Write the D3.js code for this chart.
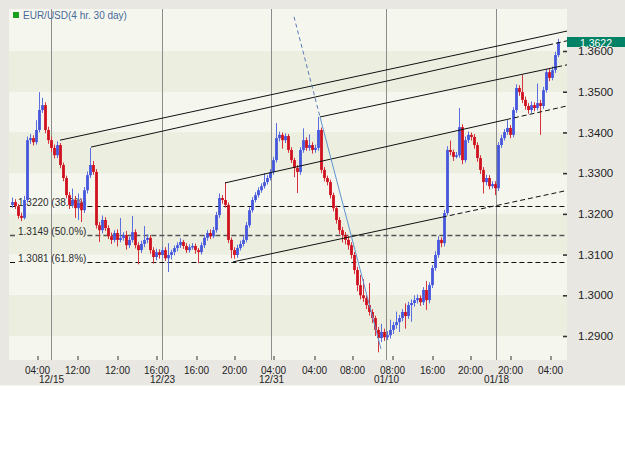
<!DOCTYPE html>
<html><head><meta charset="utf-8">
<script src="https://cdn.jsdelivr.net/npm/d3@7"></script>
<style>body{margin:0;background:#fff;} svg{display:block;font-family:Arial,"Liberation Sans",sans-serif;}</style>
</head><body><svg id="c" width="625" height="450"></svg>
<script>
const opens = [1.3222,1.3229,1.3219,1.3195,1.3190,1.3234,1.3381,1.3386,1.3376,1.3406,
1.3455,1.3467,1.3406,1.3381,1.3362,1.3344,1.3369,1.3320,1.3288,1.3246,
1.3222,1.3234,1.3214,1.3227,1.3209,1.3258,1.3295,1.3320,1.3303,1.3172,
1.3160,1.3185,1.3165,1.3145,1.3136,1.3153,1.3136,1.3141,1.3148,1.3123,
1.3136,1.3155,1.3123,1.3111,1.3126,1.3136,1.3141,1.3111,1.3094,1.3106,
1.3099,1.3111,1.3091,1.3099,1.3106,1.3116,1.3123,1.3131,1.3121,1.3111,
1.3118,1.3121,1.3111,1.3106,1.3123,1.3141,1.3153,1.3145,1.3160,1.3197,
1.3239,1.3234,1.3222,1.3136,1.3111,1.3099,1.3116,1.3126,1.3136,1.3172,
1.3209,1.3234,1.3246,1.3258,1.3268,1.3278,1.3288,1.3303,1.3332,1.3386,
1.3394,1.3381,1.3391,1.3357,1.3332,1.3313,1.3303,1.3357,1.3381,1.3362,
1.3369,1.3357,1.3362,1.3406,1.3308,1.3288,1.3278,1.3246,1.3214,1.3185,
1.3160,1.3148,1.3136,1.3123,1.3099,1.3062,1.3025,1.3000,1.2993,1.2976,
1.2959,1.2944,1.2915,1.2895,1.2910,1.2897,1.2902,1.2915,1.2927,1.2934,
1.2944,1.2959,1.2949,1.2976,1.2981,1.2988,1.2993,1.2983,1.3013,1.2988,
1.3025,1.3067,1.3099,1.3136,1.3128,1.3202,1.3357,1.3352,1.3340,1.3344,
1.3413,1.3332,1.3381,1.3394,1.3389,1.3369,1.3337,1.3308,1.3278,1.3288,
1.3268,1.3273,1.3263,1.3369,1.3386,1.3401,1.3411,1.3394,1.3455,1.3509,
1.3499,1.3480,1.3465,1.3455,1.3467,1.3460,1.3472,1.3465,1.3504,1.3548,
1.3534,1.3553,1.3590];
const highs = [1.3240,1.3236,1.3224,1.3203,1.3244,1.3390,1.3396,1.3393,1.3430,1.3499,
1.3485,1.3474,1.3414,1.3390,1.3370,1.3378,1.3374,1.3326,1.3294,1.3254,
1.3262,1.3244,1.3250,1.3236,1.3266,1.3304,1.3362,1.3330,1.3310,1.3180,
1.3196,1.3192,1.3172,1.3154,1.3160,1.3162,1.3190,1.3155,1.3158,1.3144,
1.3195,1.3162,1.3130,1.3134,1.3170,1.3150,1.3148,1.3118,1.3114,1.3113,
1.3118,1.3118,1.3128,1.3112,1.3122,1.3130,1.3140,1.3136,1.3128,1.3125,
1.3128,1.3127,1.3116,1.3130,1.3148,1.3160,1.3162,1.3168,1.3205,1.3250,
1.3246,1.3278,1.3228,1.3142,1.3118,1.3124,1.3134,1.3146,1.3180,1.3216,
1.3241,1.3253,1.3265,1.3275,1.3300,1.3295,1.3310,1.3340,1.3423,1.3402,
1.3400,1.3398,1.3396,1.3364,1.3338,1.3320,1.3364,1.3410,1.3388,1.3395,
1.3376,1.3370,1.3438,1.3412,1.3315,1.3294,1.3284,1.3252,1.3220,1.3192,
1.3168,1.3155,1.3145,1.3130,1.3106,1.3070,1.3050,1.3040,1.3000,1.3030,
1.2966,1.2950,1.2922,1.2930,1.2918,1.2912,1.2940,1.2935,1.2960,1.2952,
1.2966,1.2980,1.2984,1.2990,1.3000,1.3002,1.3000,1.3020,1.3035,1.3032,
1.3074,1.3108,1.3145,1.3142,1.3210,1.3366,1.3380,1.3358,1.3352,1.3460,
1.3420,1.3390,1.3402,1.3400,1.3396,1.3376,1.3344,1.3315,1.3296,1.3295,
1.3280,1.3280,1.3376,1.3394,1.3408,1.3430,1.3418,1.3462,1.3518,1.3516,
1.3541,1.3488,1.3472,1.3476,1.3474,1.3520,1.3480,1.3512,1.3556,1.3556,
1.3562,1.3598,1.3630];
const lows = [1.3215,1.3212,1.3188,1.3182,1.3186,1.3228,1.3372,1.3368,1.3370,1.3400,
1.3448,1.3398,1.3372,1.3352,1.3336,1.3337,1.3312,1.3280,1.3238,1.3212,
1.3215,1.3190,1.3185,1.3180,1.3202,1.3250,1.3288,1.3296,1.3164,1.3131,
1.3152,1.3158,1.3138,1.3126,1.3130,1.3120,1.3130,1.3134,1.3112,1.3116,
1.3130,1.3115,1.3076,1.3104,1.3118,1.3128,1.3102,1.3078,1.3086,1.3090,
1.3092,1.3084,1.3057,1.3088,1.3098,1.3108,1.3116,1.3114,1.3104,1.3105,
1.3112,1.3102,1.3079,1.3100,1.3116,1.3134,1.3138,1.3140,1.3154,1.3190,
1.3225,1.3215,1.3128,1.3091,1.3090,1.3092,1.3110,1.3120,1.3130,1.3166,
1.3203,1.3228,1.3240,1.3252,1.3262,1.3272,1.3282,1.3296,1.3326,1.3378,
1.3360,1.3374,1.3350,1.3325,1.3290,1.3251,1.3296,1.3350,1.3355,1.3355,
1.3348,1.3350,1.3355,1.3300,1.3280,1.3270,1.3238,1.3206,1.3176,1.3150,
1.3130,1.3125,1.3112,1.3090,1.3052,1.3010,1.2990,1.2984,1.2966,1.2950,
1.2932,1.2900,1.2860,1.2885,1.2888,1.2890,1.2894,1.2905,1.2918,1.2910,
1.2936,1.2918,1.2942,1.2935,1.2972,1.2980,1.2974,1.2976,1.2964,1.2980,
1.3018,1.3060,1.3092,1.3118,1.3120,1.3196,1.3344,1.3330,1.3336,1.3338,
1.3322,1.3326,1.3374,1.3380,1.3360,1.3328,1.3298,1.3250,1.3270,1.3260,
1.3262,1.3246,1.3256,1.3362,1.3380,1.3394,1.3386,1.3388,1.3448,1.3490,
1.3472,1.3456,1.3446,1.3448,1.3452,1.3454,1.3394,1.3458,1.3498,1.3526,
1.3528,1.3546,1.3585];
const closes = [1.3229,1.3219,1.3195,1.3190,1.3234,1.3381,1.3386,1.3376,1.3406,1.3455,
1.3467,1.3406,1.3381,1.3362,1.3344,1.3369,1.3320,1.3288,1.3246,1.3222,
1.3234,1.3214,1.3227,1.3209,1.3258,1.3295,1.3320,1.3303,1.3172,1.3160,
1.3185,1.3165,1.3145,1.3136,1.3153,1.3136,1.3141,1.3148,1.3123,1.3136,
1.3155,1.3123,1.3111,1.3126,1.3136,1.3141,1.3111,1.3094,1.3106,1.3099,
1.3111,1.3091,1.3099,1.3106,1.3116,1.3123,1.3131,1.3121,1.3111,1.3118,
1.3121,1.3111,1.3106,1.3123,1.3141,1.3153,1.3145,1.3160,1.3197,1.3239,
1.3234,1.3222,1.3136,1.3111,1.3099,1.3116,1.3126,1.3136,1.3172,1.3209,
1.3234,1.3246,1.3258,1.3268,1.3278,1.3288,1.3303,1.3332,1.3386,1.3394,
1.3381,1.3391,1.3357,1.3332,1.3313,1.3303,1.3357,1.3381,1.3362,1.3369,
1.3357,1.3362,1.3406,1.3308,1.3288,1.3278,1.3246,1.3214,1.3185,1.3160,
1.3148,1.3136,1.3123,1.3099,1.3062,1.3025,1.3000,1.2993,1.2976,1.2959,
1.2944,1.2915,1.2895,1.2910,1.2897,1.2902,1.2915,1.2927,1.2934,1.2944,
1.2959,1.2949,1.2976,1.2981,1.2988,1.2993,1.2983,1.3013,1.2988,1.3025,
1.3067,1.3099,1.3136,1.3128,1.3202,1.3357,1.3352,1.3340,1.3344,1.3413,
1.3332,1.3381,1.3394,1.3389,1.3369,1.3337,1.3308,1.3278,1.3288,1.3268,
1.3273,1.3263,1.3369,1.3386,1.3401,1.3411,1.3394,1.3455,1.3509,1.3499,
1.3480,1.3465,1.3455,1.3467,1.3460,1.3472,1.3465,1.3504,1.3548,1.3534,
1.3553,1.3590,1.3622];

const priceTicks = [1.29,1.30,1.31,1.32,1.33,1.34,1.35,1.36];
const timeTickIdx = [8.33,21.67,35,48,61.33,74,87,100.67,113.33,126.67,140,152.67,166,179.33];
const timeLabels = ["04:00","12:00","12:00","16:00","16:00","20:00","04:00","04:00","08:00","08:00","16:00","20:00","20:00","04:00"];
const dayIdx = [13,50,86.33,124.67,161.33];
const dayLabels = ["12/15","12/23","12/31","01/10","01/18"];
const fibLevels = [1.3220,1.3149,1.3081];
const fibLabels = ["1.3220 (38.2%)","1.3149 (50.0%)","1.3081 (61.8%)"];
// trend lines: start index/price, end index/price, index where dashed extension begins
const trendX1 = [16,26.33,102.67,71,73.67];
const trendP1 = [1.3381,1.3364,1.3438,1.3276,1.3082];
const trendX2 = [185,185,185,185,185.33];
const trendP2 = [1.3649,1.3625,1.3566,1.3465,1.3258];
const trendDash = [999,178.7,181.7,164.7,143.3];
// steep blue line: dashed top, pivot, bottom
const blueIdx = [94,102.67,123];
const bluePrice = [1.3684,1.3438,1.2868];
const title = "EUR/USD(4 hr. 30 day)";
const lastPrice = 1.3622;

const svg = d3.select("#c");
const L = 9, T = 9, R = 567, B = 360;
const x = d3.scaleLinear().domain([0, closes.length - 1]).range([12, 558]);
const y = d3.scaleLinear().domain([1.29, 1.36]).range([336, 51]);

svg.append("rect").attr("x",0).attr("y",0).attr("width",625).attr("height",450).attr("fill","#ffffff");
svg.append("rect").attr("x",0).attr("y",0).attr("width",625).attr("height",385).attr("fill","#e9e7e2");
svg.append("line").attr("x1",0).attr("x2",625).attr("y1",385.5).attr("y2",385.5).attr("stroke","#f4f3f0");

svg.append("defs").append("clipPath").attr("id","pc").append("rect")
  .attr("x",L).attr("y",T).attr("width",R-L).attr("height",B-T);
const plot = svg.append("g").attr("clip-path","url(#pc)");

// bands
const edges = [T, ...priceTicks.slice().reverse().map(p => y(p)), B];
for (let k = 0; k < edges.length - 1; k++) {
  plot.append("rect").attr("x",L).attr("y",edges[k]).attr("width",R-L).attr("height",edges[k+1]-edges[k])
    .attr("fill", k % 2 === 0 ? "#f5f7ef" : "#ecefe0");
}

// day separators
plot.selectAll("line.sep").data(dayIdx).join("line").attr("class","sep")
  .attr("x1",d=>Math.round(x(d))+0.5).attr("x2",d=>Math.round(x(d))+0.5)
  .attr("y1",T).attr("y2",B).attr("stroke","#8c8c8c").attr("stroke-width",1);

// fib labels (text) first
const fibG = plot.append("g");
fibLevels.forEach((p,k) => {
  const ly = Math.round(y(p)) + 0.5;
  const t = fibG.append("text").attr("x",18).attr("y",ly - 0.5).attr("font-size",10).attr("fill","#2a2a2a").text(fibLabels[k]);
  const w = t.node().getComputedTextLength();
  const sw = k === 1 ? 1.6 : 1;
  const col = k === 1 ? "#555" : "#111";
  fibG.append("line").attr("x1",10).attr("x2",17).attr("y1",ly).attr("y2",ly)
    .attr("stroke",col).attr("stroke-width",sw).attr("stroke-dasharray","5,3");
  fibG.append("line").attr("x1",18 + w + 1).attr("x2",R).attr("y1",ly).attr("y2",ly)
    .attr("stroke",col).attr("stroke-width",sw).attr("stroke-dasharray","5,3");
});

// candles
const idx = d3.range(closes.length);
const up = i => closes[i] >= opens[i];
const cg = plot.append("g");
cg.selectAll("line.w").data(idx).join("line").attr("class","w")
  .attr("x1",i=>Math.round(x(i))+0.5).attr("x2",i=>Math.round(x(i))+0.5)
  .attr("y1",i=>y(highs[i])).attr("y2",i=>y(lows[i]))
  .attr("stroke",i=>up(i)?"#5a6ee0":"#d8333c").attr("stroke-width",1);
cg.selectAll("rect.b").data(idx).join("rect").attr("class","b")
  .attr("x",i=>Math.round(x(i))-0.9).attr("width",2.8)
  .attr("y",i=>y(Math.max(opens[i],closes[i])))
  .attr("height",i=>Math.max(1.5, Math.abs(y(opens[i])-y(closes[i]))))
  .attr("fill",i=>up(i)?"#4556dc":"#d0101e");

// trend lines
trendX1.forEach((x1,k) => {
  const x2 = trendX2[k], p1 = trendP1[k], p2 = trendP2[k], xd = trendDash[k];
  const pAt = v => p1 + (p2 - p1) * (v - x1) / (x2 - x1);
  const solidEnd = Math.min(xd, x2);
  plot.append("line").attr("x1",x(x1)).attr("y1",y(p1)).attr("x2",x(solidEnd)).attr("y2",y(pAt(solidEnd)))
    .attr("stroke","#111").attr("stroke-width",1);
  if (xd < x2) {
    plot.append("line").attr("x1",x(xd)).attr("y1",y(pAt(xd))).attr("x2",x(x2)).attr("y2",y(p2))
      .attr("stroke","#111").attr("stroke-width",1).attr("stroke-dasharray","5,3");
  }
});

// blue steep line
plot.append("line").attr("x1",x(blueIdx[0])).attr("y1",y(bluePrice[0])).attr("x2",x(blueIdx[1])).attr("y2",y(bluePrice[1]))
  .attr("stroke","#5a7ab8").attr("stroke-width",1).attr("stroke-dasharray","4,3");
plot.append("line").attr("x1",x(blueIdx[1])).attr("y1",y(bluePrice[1])).attr("x2",x(blueIdx[2])).attr("y2",y(bluePrice[2]))
  .attr("stroke","#5f93cf").attr("stroke-width",1);

// title
svg.append("rect").attr("x",13).attr("y",12).attr("width",6).attr("height",6).attr("fill","#1aa01a");
svg.append("text").attr("x",23).attr("y",19).attr("font-size",10).attr("fill","#4a6899").text(title);

// x axis (time)
const xa = svg.append("g").attr("transform",`translate(0,${B})`)
  .call(d3.axisBottom(x).tickValues(timeTickIdx).tickFormat((d,i)=>timeLabels[i]).tickSize(-4).tickPadding(6.5));
xa.select(".domain").remove();
xa.selectAll(".tick line").attr("stroke","#333").attr("transform","translate(0.5,0)");
xa.selectAll(".tick text").attr("font-size",10).attr("fill","#222").attr("font-family","Arial, 'Liberation Sans', sans-serif");

const da = svg.append("g").attr("transform",`translate(0,${B})`)
  .call(d3.axisBottom(x).tickValues(dayIdx).tickFormat((d,i)=>dayLabels[i]).tickSize(0).tickPadding(15.5));
da.select(".domain").remove();
da.selectAll(".tick text").attr("font-size",10).attr("fill","#222").attr("font-family","Arial, 'Liberation Sans', sans-serif");

// y axis (price)
const ya = svg.append("g").attr("transform",`translate(563,0)`)
  .call(d3.axisRight(y).tickValues(priceTicks).tickFormat(d3.format(".4f")).tickSize(4).tickPadding(11));
ya.select(".domain").remove();
ya.selectAll(".tick line").attr("stroke","#333").attr("stroke-width",1.6);
ya.selectAll(".tick text").attr("font-size",11.5).attr("fill","#222").attr("font-family","Arial, 'Liberation Sans', sans-serif");

// current price box
const ly = y(lastPrice);
svg.append("rect").attr("x",567).attr("y",Math.round(ly)-5).attr("width",58).attr("height",10).attr("fill","#008266");
svg.append("text").attr("x",596).attr("y",Math.round(ly)+4.5).attr("text-anchor","middle")
  .attr("font-size",10.5).attr("fill","#ffffff").text(d3.format(".4f")(lastPrice));
</script></body></html>
